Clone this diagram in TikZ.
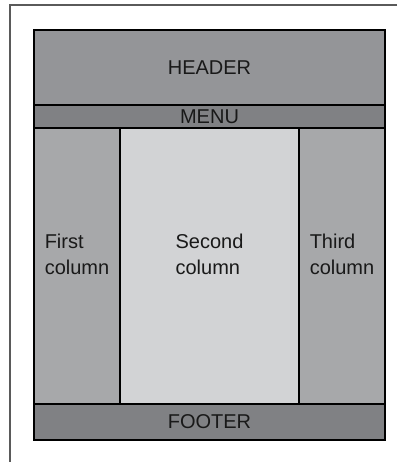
\documentclass[tikz,border=0pt]{standalone}
\usepackage{fontspec}
\setmainfont{Liberation Sans}
\definecolor{headgray}{HTML}{949598}
\definecolor{bargray}{HTML}{808184}
\definecolor{sidegray}{HTML}{A7A8AA}
\definecolor{midgray}{HTML}{D2D3D5}
\definecolor{framegray}{HTML}{5A5A5A}
\begin{document}
\begin{tikzpicture}[x=1pt,y=-1pt,
  region/.style={draw=black, line width=1.1pt, inner sep=0pt, outer sep=0pt,
    font=\fontsize{20}{26}\selectfont, text=black!90},
  label/.style={inner sep=0pt, align=left, font=\fontsize{20}{26}\selectfont, text=black!90},
  frameline/.style={draw=framegray, line width=2pt}]
\useasboundingbox (0,0) rectangle (397,462);
% page frame (left and top edges)
\coordinate (ftop) at (397,5.5);
\coordinate (fcorner) at (10,5.5);
\coordinate (fbottom) at (10,462);
\draw[frameline] (ftop) -- (fcorner) -- (fbottom);
% layout regions
\node[region, fill=headgray, minimum width=351pt, minimum height=75pt] (header) at (209.5,67.5) {HEADER};
\node[region, fill=bargray, minimum width=351pt, minimum height=23pt] (menu) at (209.5,116.5) {MENU};
\node[region, fill=sidegray, minimum width=86pt, minimum height=276pt] (first) at (77,266) {};
\node[region, fill=midgray, minimum width=179pt, minimum height=276pt] (second) at (209.5,266) {};
\node[region, fill=sidegray, minimum width=86pt, minimum height=276pt] (third) at (342,266) {};
\node[region, fill=bargray, minimum width=351pt, minimum height=36pt] (footer) at (209.5,422) {FOOTER};
% column captions
\node[label] (firstlbl) at ([yshift=12pt]first.center) {First\\column};
\node[label] (secondlbl) at ([yshift=12pt]second.center) {Second\\column};
\node[label] (thirdlbl) at ([yshift=12pt]third.center) {Third\\column};
\end{tikzpicture}
\end{document}
